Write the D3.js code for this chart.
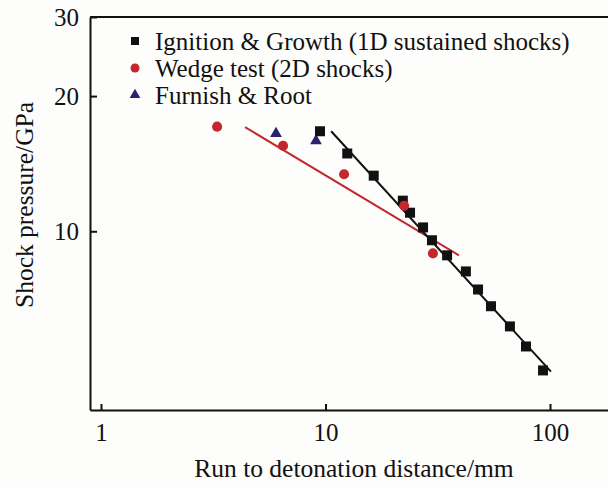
<!DOCTYPE html>
<html>
<head>
<meta charset="utf-8">
<script src="https://cdn.jsdelivr.net/npm/d3@7"></script>
<style>
  body { margin: 0; background: #fdfdfb; }
  svg { display: block; font-family: "Liberation Serif", "Times New Roman", serif; }
</style>
</head>
<body>
<svg id="chart" width="608" height="487"></svg>
<script>
// Ignition & Growth (1D sustained shocks)
var igX = [9.45, 12.5, 16.4, 22.1, 23.8, 27.2, 29.8, 34.8, 42.2, 47.8, 54.6, 66.3, 78.2, 93.1];
var igY = [16.7, 14.9, 13.3, 11.7, 11.0, 10.2, 9.55, 8.84, 8.14, 7.42, 6.81, 6.14, 5.54, 4.90];
// Wedge test (2D shocks)
var wedgeX = [3.29, 6.47, 12.1, 22.4, 30.1];
var wedgeY = [17.1, 15.5, 13.4, 11.4, 8.93];
// Furnish & Root
var frX = [6.02, 9.07];
var frY = [16.5, 15.9];
// fitted lines (end points)
var igFitX = [10.6, 101];
var igFitY = [16.7, 4.87];
var wedgeFitX = [4.38, 39.3];
var wedgeFitY = [17.06, 8.84];

var xTicks = [1, 10, 100];
var yTicks = [10, 20, 30];
var legendNames = ["Ignition & Growth (1D sustained shocks)", "Wedge test (2D shocks)", "Furnish & Root"];

var black = "#111111", red = "#c4282d", navy = "#2a2270";

var svg = d3.select("#chart");

var x = d3.scaleLog().domain([1, 100]).range([101, 550]);
x.domain([x.invert(90), x.invert(620)]).range([90, 620]);
var y = d3.scaleLog().domain([4, 30]).range([410, 17]);

// frame: top line
svg.append("line")
	.attr("x1", 90).attr("x2", 620)
	.attr("y1", 17).attr("y2", 17)
	.attr("stroke", black).attr("stroke-width", 2);

// axes
var xAxis = svg.append("g")
	.attr("transform", "translate(0,410)")
	.call(d3.axisBottom(x).tickValues(xTicks).tickFormat(d3.format("d")).tickSizeInner(-6).tickSizeOuter(0));
var yAxis = svg.append("g")
	.attr("transform", "translate(90,0)")
	.call(d3.axisLeft(y).tickValues(yTicks).tickFormat(d3.format("d")).tickSizeInner(-7).tickSizeOuter(0));

[xAxis, yAxis].forEach(function(a) {
	a.select(".domain").attr("stroke", black).attr("stroke-width", 2);
	a.selectAll(".tick line").attr("stroke", black).attr("stroke-width", 2);
	a.selectAll(".tick text")
		.attr("fill", black)
		.style("font-family", "'Liberation Serif', 'Times New Roman', serif")
		.style("font-size", "25px");
});
xAxis.selectAll(".tick text").attr("y", 13).attr("dy", "0.71em");
yAxis.selectAll(".tick text").attr("x", -11).attr("dy", "0.34em");

// axis titles
svg.append("text")
	.attr("x", 354).attr("y", 477)
	.attr("text-anchor", "middle")
	.style("font-size", "25.5px")
	.attr("fill", black)
	.text("Run to detonation distance/mm");

svg.append("text")
	.attr("transform", "translate(33,205) rotate(-90)")
	.attr("text-anchor", "middle")
	.style("font-size", "25.5px")
	.attr("fill", black)
	.text("Shock pressure/GPa");

// fit lines
var line = d3.line().x(function(d) { return x(d[0]); }).y(function(d) { return y(d[1]); });
svg.append("path")
	.attr("d", line(d3.zip(wedgeFitX, wedgeFitY)))
	.attr("stroke", red).attr("stroke-width", 2).attr("fill", "none");
svg.append("path")
	.attr("d", line(d3.zip(igFitX, igFitY)))
	.attr("stroke", black).attr("stroke-width", 2).attr("fill", "none");

// markers
var sq = d3.symbol().type(d3.symbolSquare).size(100);
var ci = d3.symbol().type(d3.symbolCircle).size(80);
var tri = d3.symbol().type(d3.symbolTriangle).size(60);

svg.append("g").selectAll("path")
	.data(d3.zip(frX, frY))
	.join("path")
	.attr("d", tri)
	.attr("transform", function(d) { return "translate(" + x(d[0]) + "," + y(d[1]) + ")"; })
	.attr("fill", navy);

svg.append("g").selectAll("path")
	.data(d3.zip(igX, igY))
	.join("path")
	.attr("d", sq)
	.attr("transform", function(d) { return "translate(" + x(d[0]) + "," + y(d[1]) + ")"; })
	.attr("fill", black);

svg.append("g").selectAll("path")
	.data(d3.zip(wedgeX, wedgeY))
	.join("path")
	.attr("d", ci)
	.attr("transform", function(d) { return "translate(" + x(d[0]) + "," + y(d[1]) + ")"; })
	.attr("fill", red);

// legend
var legend = svg.append("g");
var legSyms = [d3.symbol().type(d3.symbolSquare).size(64), d3.symbol().type(d3.symbolCircle).size(64), d3.symbol().type(d3.symbolTriangle).size(50)];
var legColors = [black, red, navy];
legendNames.forEach(function(name, i) {
	var yy = 41 + i * 27;
	legend.append("path")
		.attr("d", legSyms[i])
		.attr("transform", "translate(135," + yy + ")")
		.attr("fill", legColors[i]);
	legend.append("text")
		.attr("x", 155).attr("y", yy)
		.attr("dy", "0.34em")
		.style("font-size", "25px")
		.attr("fill", black)
		.text(name);
});
</script>
</body>
</html>
